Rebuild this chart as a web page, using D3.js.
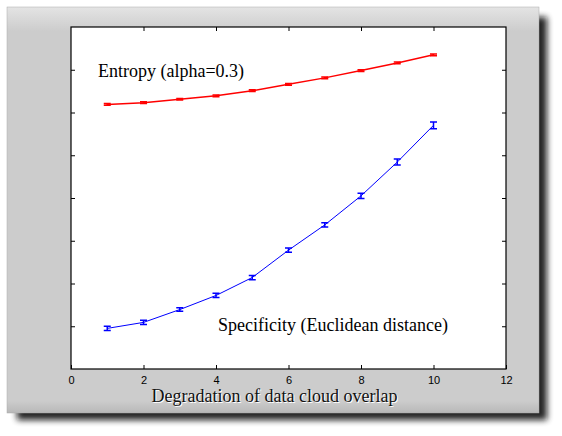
<!DOCTYPE html>
<html>
<head>
<meta charset="utf-8">
<style>
  body { margin: 0; background: #fff; }
</style>
</head>
<body>
<script src="https://d3js.org/d3.v7.min.js"></script>
<script>
// data
var xs = [1, 2, 3, 4, 5, 6, 7, 8, 9, 10];
var entropy = [6.19, 6.23, 6.31, 6.39, 6.51, 6.66, 6.81, 6.98, 7.16, 7.35];
var entropyErr = [0.02, 0.02, 0.02, 0.02, 0.02, 0.02, 0.02, 0.02, 0.02, 0.02];
var specificity = [0.95, 1.09, 1.39, 1.72, 2.14, 2.78, 3.37, 4.05, 4.84, 5.70];
var specificityErr = [0.05, 0.05, 0.04, 0.05, 0.05, 0.05, 0.05, 0.06, 0.07, 0.08];
var xTicks = [0, 2, 4, 6, 8, 10, 12];
var yTicks = [1, 2, 3, 4, 5, 6, 7];

var width = 562, height = 436;
var plot = {left: 71, top: 27, right: 506, bottom: 369};

var svg = d3.select("body").append("svg")
  .attr("width", width)
  .attr("height", height);

var defs = svg.append("defs");
var blur = defs.append("filter").attr("id", "shadow")
  .attr("x", "-10%").attr("y", "-10%").attr("width", "130%").attr("height", "130%");
blur.append("feGaussianBlur").attr("stdDeviation", 3);

var grad = defs.append("linearGradient").attr("id", "bevel")
  .attr("x1", 0).attr("y1", 0).attr("x2", 0).attr("y2", 1);
grad.append("stop").attr("offset", "0").attr("stop-color", "#e4e4e4");
grad.append("stop").attr("offset", "0.06").attr("stop-color", "#cccccc");
grad.append("stop").attr("offset", "0.97").attr("stop-color", "#cccccc");
grad.append("stop").attr("offset", "1").attr("stop-color", "#b8b8b8");

// panel shadow
svg.append("rect")
  .attr("x", 17).attr("y", 17)
  .attr("width", 530).attr("height", 403)
  .attr("fill", "#111").attr("opacity", 0.9)
  .attr("filter", "url(#shadow)");

// grey panel
svg.append("rect")
  .attr("x", 7).attr("y", 7)
  .attr("width", 532).attr("height", 406)
  .attr("fill", "url(#bevel)")
  .attr("stroke", "#aaa").attr("stroke-width", 0.5);

var x = d3.scaleLinear().domain([0, 12]).range([plot.left, plot.right]);
var y = d3.scaleLinear().domain([0, 8]).range([plot.bottom, plot.top]);

// white plot area
svg.append("rect")
  .attr("x", plot.left).attr("y", plot.top)
  .attr("width", plot.right - plot.left)
  .attr("height", plot.bottom - plot.top)
  .attr("fill", "#fff");

var tickLen = 4;

var bottomAxis = svg.append("g")
  .attr("transform", "translate(0," + plot.bottom + ")")
  .call(d3.axisBottom(x).tickValues(xTicks).tickSizeInner(-tickLen).tickSizeOuter(0).tickPadding(7));
bottomAxis.selectAll("text")
  .attr("font-family", "Liberation Sans, Arial, sans-serif")
  .attr("font-size", "11px").attr("fill", "#000");

svg.append("g")
  .attr("transform", "translate(0," + plot.top + ")")
  .call(d3.axisTop(x).tickValues(xTicks.slice(1, -1)).tickSizeInner(-tickLen).tickSizeOuter(0).tickFormat(""));

svg.append("g")
  .attr("transform", "translate(" + plot.left + ",0)")
  .call(d3.axisLeft(y).tickValues(yTicks).tickSizeInner(-tickLen).tickSizeOuter(0).tickFormat(""));

svg.append("g")
  .attr("transform", "translate(" + plot.right + ",0)")
  .call(d3.axisRight(y).tickValues(yTicks).tickSizeInner(-tickLen).tickSizeOuter(0).tickFormat(""));

svg.selectAll(".domain").remove();
svg.selectAll(".tick line").attr("stroke", "#000").attr("stroke-width", 1);

// plot frame
svg.append("rect")
  .attr("x", plot.left).attr("y", plot.top)
  .attr("width", plot.right - plot.left)
  .attr("height", plot.bottom - plot.top)
  .attr("fill", "none").attr("stroke", "#000").attr("stroke-width", 1.2);

function drawSeries(vals, errs, color, lw) {
  var pts = xs.map(function(d, i) { return {x: d, y: vals[i], e: errs[i]}; });
  var line = d3.line()
    .x(function(d) { return x(d.x); })
    .y(function(d) { return y(d.y); });
  svg.append("path")
    .datum(pts)
    .attr("d", line)
    .attr("fill", "none")
    .attr("stroke", color)
    .attr("stroke-width", lw);

  var cap = 3.5;
  var g = svg.append("g").attr("stroke", color).attr("stroke-width", 1.5);
  g.selectAll(".err").data(pts).enter().append("path")
    .attr("d", function(d) {
      var cx = x(d.x), y0 = y(d.y - d.e), y1 = y(d.y + d.e);
      return "M" + cx + "," + y0 + "V" + y1 +
        "M" + (cx - cap) + "," + y0 + "H" + (cx + cap) +
        "M" + (cx - cap) + "," + y1 + "H" + (cx + cap);
    });
}

drawSeries(entropy, entropyErr, "#ff0000", 1.5);
drawSeries(specificity, specificityErr, "#0000ff", 1);

var serif = "Liberation Serif, Times New Roman, serif";

svg.append("text")
  .attr("x", 98).attr("y", 77)
  .attr("font-family", serif).attr("font-size", "18px")
  .text("Entropy (alpha=0.3)");

svg.append("text")
  .attr("x", 218).attr("y", 331)
  .attr("font-family", serif).attr("font-size", "18px")
  .text("Specificity (Euclidean distance)");

// x label with a light emboss
var xl = (plot.left + plot.right) / 2 - 14;
svg.append("text")
  .attr("x", xl + 1).attr("y", 403)
  .attr("text-anchor", "middle")
  .attr("font-family", serif).attr("font-size", "18px")
  .attr("fill", "#fff")
  .text("Degradation of data cloud overlap");
svg.append("text")
  .attr("x", xl).attr("y", 402)
  .attr("text-anchor", "middle")
  .attr("font-family", serif).attr("font-size", "18px")
  .attr("fill", "#111")
  .text("Degradation of data cloud overlap");
</script>
</body>
</html>
